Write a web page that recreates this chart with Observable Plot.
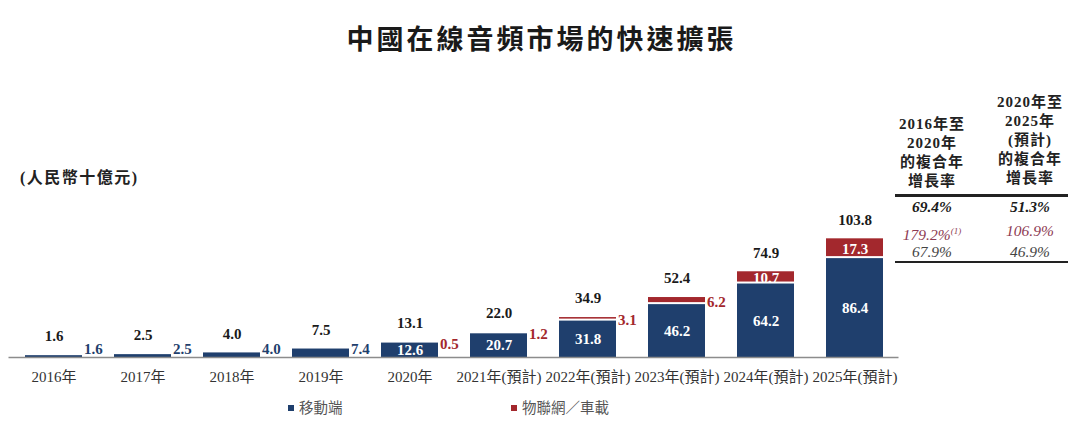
<!DOCTYPE html>
<html><head><meta charset="utf-8">
<script src="https://cdn.jsdelivr.net/npm/d3@7"></script>
<script src="https://cdn.jsdelivr.net/npm/@observablehq/plot@0.6"></script>
<style>
body{margin:0;background:#fff;}
#wrap{position:relative;width:1080px;height:424px;overflow:hidden;font-family:'Liberation Serif','Noto Sans CJK TC',serif;color:#222;}
#title{height:76px;line-height:76px;text-align:center;font-size:27px;font-weight:700;letter-spacing:3px;padding-left:3px;color:#1a1a1a;font-family:'Noto Sans CJK TC',sans-serif;}
#unit{position:absolute;left:20px;top:164px;font-size:16px;font-weight:700;letter-spacing:1.5px;color:#222;white-space:nowrap;}
.hdr{position:absolute;width:100px;text-align:center;font-size:15px;font-weight:700;line-height:19px;letter-spacing:1px;color:#222;}
.rule{position:absolute;left:895px;width:173px;background:#222;}
.row{position:absolute;width:100px;text-align:center;font-size:15.5px;font-style:italic;line-height:18px;}
#legend{position:absolute;top:396px;left:0;width:1080px;height:22px;}
.li{position:absolute;top:0;line-height:22px;font-size:14.5px;color:#555;white-space:nowrap;font-family:'Noto Sans CJK TC',sans-serif;}
.sw{display:inline-block;width:6px;height:6px;margin-right:5px;vertical-align:middle;position:relative;top:-1px;}
sup{font-size:9px;}
</style></head>
<body><div id="wrap"><div id="title"></div><div id="chart"></div></div>
<script>
const titleText = "中國在線音頻市場的快速擴張";
const unitText = "(人民幣十億元)";
const years = ["2016年","2017年","2018年","2019年","2020年","2021年(預計)","2022年(預計)","2023年(預計)","2024年(預計)","2025年(預計)"];
const mobile = [1.6, 2.5, 4.0, 7.4, 12.6, 20.7, 31.8, 46.2, 64.2, 86.4];
const iot = [null, null, null, null, 0.5, 1.2, 3.1, 6.2, 10.7, 17.3];
const totals = [1.6, 2.5, 4.0, 7.5, 13.1, 22.0, 34.9, 52.4, 74.9, 103.8];
const seriesNames = ["移動端", "物聯網／車載"];
const seriesColors = ["#1f3f6d", "#a3282d"];
const cagrHeaders = [["2016年至","2020年","的複合年","增長率"], ["2020年至","2025年","(預計)","的複合年","增長率"]];
const cagr1 = ["69.4%", "179.2%", "67.9%"];
const cagr2 = ["51.3%", "106.9%", "46.9%"];
const cagrNote = ["", "(1)", ""];

const navy = seriesColors[0], red = seriesColors[1];
const data = years.map((y, i) => ({year: y, mobile: mobile[i], iot: iot[i], total: totals[i]}));
const wrap = document.getElementById("wrap");
document.getElementById("title").textContent = titleText;

const chart = Plot.plot({
  width: 1080, height: 320,
  marginLeft: 8.5, marginRight: 181.5, marginTop: 75, marginBottom: 39,
  style: {fontFamily: "'Liberation Serif','Noto Sans CJK TC',serif", fontSize: "15px", color: "#333", background: "transparent"},
  x: {domain: years, paddingInner: 0.36, paddingOuter: 0.18, label: null},
  y: {domain: [0, 180], axis: null},
  marks: [
    Plot.barY(data, {x: "year", y1: () => 0, y2: "mobile", fill: navy}),
    Plot.barY(data.filter(d => d.iot != null), {x: "year", y1: "mobile", y2: d => d.mobile + d.iot, fill: red, insetBottom: 2}),
    Plot.ruleY([0], {stroke: "#8c8c8c", strokeWidth: 1.5}),
    Plot.axisX({tickSize: 0, tickPadding: 14, fontSize: 15, label: null}),
    Plot.text(data, {x: "year", y: "total", text: d => d.total.toFixed(1), dy: -19, fontWeight: "bold", fontSize: 15, fill: "#1a1a1a"}),
    Plot.text(data.filter(d => d.mobile >= 10), {x: "year", y: d => d.mobile / 2, text: d => d.mobile.toFixed(1), fontWeight: "bold", fontSize: 15, fill: "white"}),
    Plot.text(data.filter(d => d.mobile < 10), {x: "year", y: () => 0, text: d => d.mobile.toFixed(1), dx: 30, dy: -8, textAnchor: "start", fontWeight: "bold", fontSize: 15, fill: navy}),
    Plot.text(data.filter(d => d.iot != null && d.iot < 10), {x: "year", y: d => d.mobile + d.iot / 2, text: d => d.iot.toFixed(1), dx: 30, dy: 1, textAnchor: "start", fontWeight: "bold", fontSize: 15, fill: red}),
    Plot.text(data.filter(d => d.iot != null && d.iot >= 10), {x: "year", y: d => d.mobile + d.iot / 2, text: d => d.iot.toFixed(1), fontWeight: "bold", fontSize: 15, fill: "white"})
  ]
});
document.getElementById("chart").appendChild(chart);

// unit label
const unit = document.createElement("div");
unit.id = "unit"; unit.textContent = unitText; wrap.appendChild(unit);

// CAGR table
const hdrPos = [{left: 882, top: 115}, {left: 980, top: 93}];
cagrHeaders.forEach((lines, c) => {
  const h = document.createElement("div");
  h.className = "hdr";
  h.style.left = hdrPos[c].left + "px"; h.style.top = hdrPos[c].top + "px";
  h.innerHTML = lines.join("<br>");
  wrap.appendChild(h);
});
[[194, 2.5], [261, 2]].forEach(([t, hgt]) => {
  const r = document.createElement("div");
  r.className = "rule"; r.style.top = t + "px"; r.style.height = hgt + "px";
  wrap.appendChild(r);
});
const rowTops = [198, 222, 243];
const rowStyles = [{color: "#1a1a1a", weight: 700}, {color: "#8d3a52", weight: 400}, {color: "#444", weight: 400}];
[cagr1, cagr2].forEach((col, c) => {
  col.forEach((v, r) => {
    const d = document.createElement("div");
    d.className = "row";
    d.style.left = hdrPos[c].left + "px"; d.style.top = rowTops[r] + "px";
    d.style.color = rowStyles[r].color; d.style.fontWeight = rowStyles[r].weight;
    d.innerHTML = v + (c === 0 && cagrNote[r] ? "<sup>" + cagrNote[r] + "</sup>" : "");
    wrap.appendChild(d);
  });
});

// legend
const legend = document.createElement("div");
legend.id = "legend";
const legLeft = [288, 511];
seriesNames.forEach((n, i) => {
  const it = document.createElement("div");
  it.className = "li"; it.style.left = legLeft[i] + "px";
  it.innerHTML = `<span class="sw" style="background:${seriesColors[i]}"></span>${n}`;
  legend.appendChild(it);
});
wrap.appendChild(legend);
</script></body></html>
